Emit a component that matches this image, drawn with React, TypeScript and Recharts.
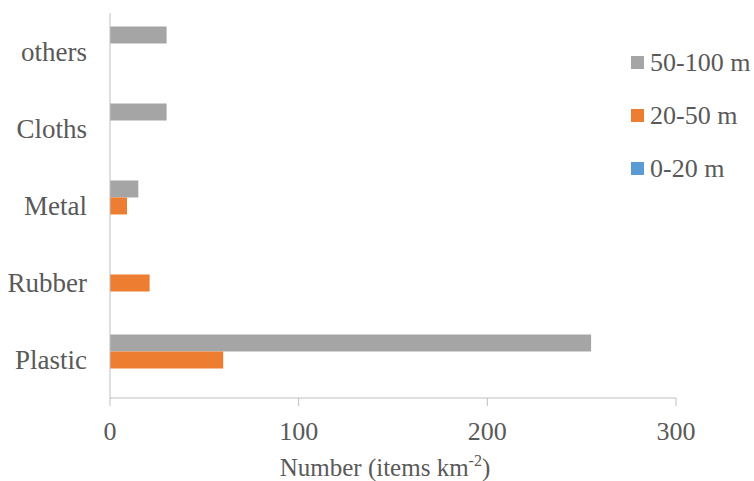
import { Bar, BarChart, Legend, XAxis, YAxis } from "recharts";

const categories = ["others", "Cloths", "Metal", "Rubber", "Plastic"];
const depth50to100 = [30, 30, 15, 0, 255];
const depth20to50 = [0, 0, 9, 21, 60];
const depth0to20 = [0, 0, 0, 0, 0];
const xTicks = [0, 100, 200, 300];

const series = [
  { key: "d50_100", name: "50-100 m", color: "#A5A5A5", values: depth50to100 },
  { key: "d20_50", name: "20-50 m", color: "#ED7D31", values: depth20to50 },
  { key: "d0_20", name: "0-20 m", color: "#5B9BD5", values: depth0to20 },
];

const data = categories.map((name, i) => {
  const row: Record<string, string | number> = { name };
  series.forEach((s) => {
    row[s.key] = s.values[i];
  });
  return row;
});

const FONT = "'Liberation Serif', 'Times New Roman', serif";
const TEXT = "#595959";
const AXIS = "#BFBFBF";

// legend runs almost to the right edge of the window, so drop the body margin
if (typeof document !== "undefined") {
  document.body.style.margin = "0";
}

function AxisTitle({ viewBox }: any) {
  const cx = viewBox.x + viewBox.width / 2 - 8;
  return (
    <text x={cx} y={viewBox.y + 78} textAnchor="middle" fill={TEXT} fontSize={25} fontFamily={FONT}>
      Number (items km
      <tspan fontSize={16} dy={-10}>-2</tspan>
      <tspan dy={10}>)</tspan>
    </text>
  );
}

function LegendBox() {
  return (
    <div style={{ fontFamily: FONT, fontSize: 26, color: TEXT, whiteSpace: "nowrap" }}>
      {series.map((s) => (
        <div key={s.key} style={{ height: 53, display: "flex", alignItems: "center" }}>
          <span style={{ width: 13, height: 13, background: s.color, marginRight: 6, display: "inline-block" }} />
          <span>{s.name}</span>
        </div>
      ))}
    </div>
  );
}

export default function App() {
  return (
    <div style={{ width: 754, height: 481, position: "relative", overflow: "hidden" }}>
      <div style={{ position: "absolute", left: 8, top: 8 }}>
        <BarChart
          width={746}
          height={473}
          data={data}
          layout="vertical"
          margin={{ top: 5, right: 78, bottom: 0, left: 0 }}
          barCategoryGap="17.5%"
          barGap={0}
        >
          <XAxis
            type="number"
            domain={[0, 300]}
            ticks={xTicks}
            height={83}
            stroke={AXIS}
            tickSize={8}
            tickMargin={16}
            tick={{ fill: TEXT, fontSize: 26, fontFamily: FONT }}
            label={<AxisTitle />}
          />
          <YAxis
            type="category"
            dataKey="name"
            width={102}
            stroke={AXIS}
            tickLine={false}
            tickSize={0}
            tickMargin={23}
            tick={{ fill: TEXT, fontSize: 27, fontFamily: FONT }}
          />
          <Legend
            layout="vertical"
            align="center"
            verticalAlign="middle"
            wrapperStyle={{ left: 623, top: 28, width: 123 }}
            content={<LegendBox />}
          />
          {series.map((s) => (
            <Bar key={s.key} dataKey={s.key} name={s.name} fill={s.color} isAnimationActive={false} />
          ))}
        </BarChart>
      </div>
    </div>
  );
}
